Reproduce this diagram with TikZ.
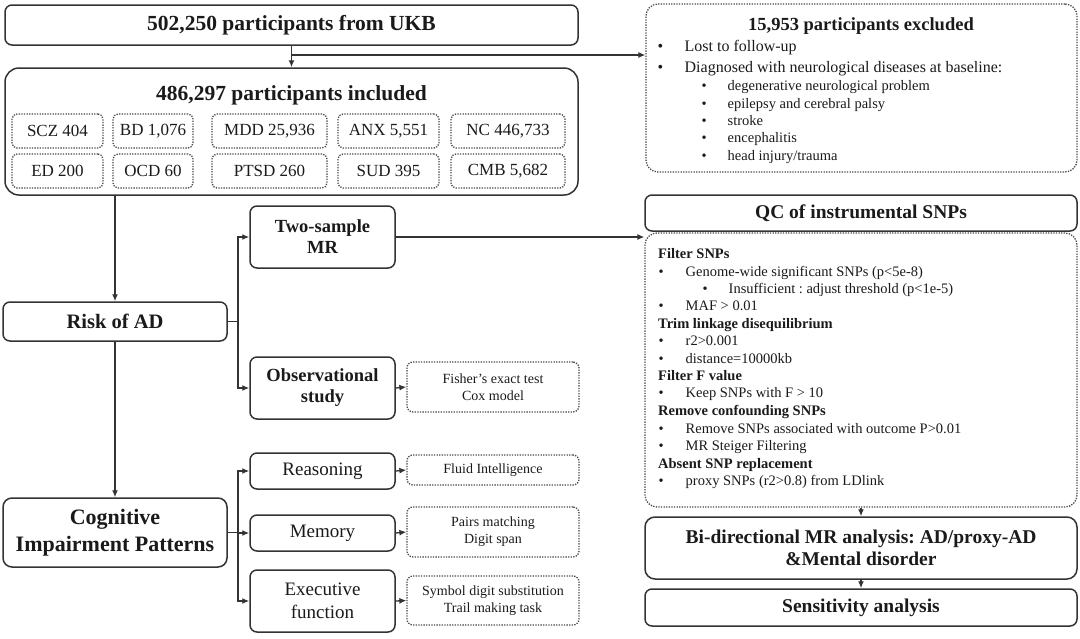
\documentclass[tikz,border=0pt]{standalone}
\usepackage{fontspec}
\setmainfont{Liberation Serif}
\usetikzlibrary{arrows.meta}
\definecolor{linec}{HTML}{333333}
\definecolor{textc}{HTML}{1A1A1A}
\definecolor{dotc}{HTML}{4A4A4A}
\newcommand{\fsz}[2]{\fontsize{#1}{#2}\selectfont}
\newcommand{\bulA}[1]{\makebox[27pt][l]{\textbullet}#1}
\newcommand{\bulB}[1]{\makebox[26pt][l]{\textbullet}#1}
\frenchspacing
\tikzset{
  box/.style={draw=linec, line width=1.5pt, rounded corners=7pt, inner sep=0pt, align=center, text=textc},
  dbox/.style={draw=dotc, line width=1.3pt, dash pattern=on 1.3pt off 1.3pt, rounded corners=6pt, inner sep=0pt, align=center, text=textc},
  arr/.style={draw=linec, line width=1.3pt, -{Latex[length=7pt,width=6pt]}},
  ln/.style={draw=linec, line width=1.3pt},
  txt/.style={anchor=base west, inner sep=0pt, text=textc},
  ctxt/.style={anchor=base, inner sep=0pt, text=textc},
  cnt/.style={dbox, rounded corners=5pt, minimum height=34pt, font=\fsz{17}{20}},
  body/.style={txt, font=\fsz{14.5}{17}},
  head/.style={txt, font=\fsz{14.5}{17}\bfseries},
}
\begin{document}
\begin{tikzpicture}[x=1pt,y=-1pt]
\useasboundingbox (0,0) rectangle (1080,638);

% top
\node[box, minimum width=573pt, minimum height=40pt, font=\fsz{21.5}{26}\bfseries] (ukb) at (291.5,25) {502,250 participants from UKB};
\node[box, rounded corners=14pt, minimum width=573pt, minimum height=127pt] (incl) at (291.5,131.5) {};
\node[ctxt, font=\fsz{21.5}{26}\bfseries] (incltitle) at (291.5,100) {486,297 participants included};

\node[cnt, minimum width=91pt]  (scz) at (57.5,131) {SCZ 404};
\node[cnt, minimum width=80pt]  (bd)  at (153,131) {BD 1,076};
\node[cnt, minimum width=115pt] (mdd) at (269.5,131) {MDD 25,936};
\node[cnt, minimum width=101pt] (anx) at (388.5,131) {ANX 5,551};
\node[cnt, minimum width=114pt] (nc)  at (508,131) {NC 446,733};
\node[cnt, minimum width=91pt]  (ed)  at (57.5,171) {ED 200};
\node[cnt, minimum width=80pt]  (ocd) at (153,171) {OCD 60};
\node[cnt, minimum width=115pt] (ptsd) at (269.5,171) {PTSD 260};
\node[cnt, minimum width=101pt] (sud) at (388.5,171) {SUD 395};
\node[cnt, minimum width=114pt] (cmb) at (508,171) {CMB 5,682};

% excluded
\node[dbox, rounded corners=12pt, minimum width=431pt, minimum height=168pt] (excl) at (861.5,88) {};
\node[ctxt, font=\fsz{18.5}{22}\bfseries] (extitle) at (861,30) {15,953 participants excluded};
\node[txt, font=\fsz{16}{19}] (x1) at (657.5,51) {\bulA{Lost to follow-up}};
\node[txt, font=\fsz{16}{19}] (x2) at (657.5,72) {\bulA{Diagnosed with neurological diseases at baseline:}};
\node[body] (x3) at (701.5,90) {\bulB{degenerative neurological problem}};
\node[body] (x4) at (701.5,108) {\bulB{epilepsy and cerebral palsy}};
\node[body] (x5) at (701.5,125) {\bulB{stroke}};
\node[body] (x6) at (701.5,142) {\bulB{encephalitis}};
\node[body] (x7) at (701.5,160) {\bulB{head injury/trauma}};

\coordinate (uj) at (291.5,55);
\draw[arr] (ukb.south) -- (incl.north);
\draw[arr] (uj) -- (uj -| excl.west);

% left column
\node[box, minimum width=224pt, minimum height=39pt, font=\fsz{20.5}{24}\bfseries] (risk) at (115,321.5) {Risk of AD};
\node[box, rounded corners=9pt, minimum width=224pt, minimum height=69pt, font=\fsz{22}{27}\bfseries] (cog) at (115,532.5) {Cognitive\\Impairment Patterns};
\draw[arr] (incl.south -| risk.north) -- (risk.north);
\draw[arr] (risk.south) -- (cog.north);

% MR branch
\node[box, minimum width=145pt, minimum height=62pt, font=\fsz{18.5}{21}\bfseries] (tsmr) at (322.5,237) {Two-sample\\MR};
\node[box, minimum width=145pt, minimum height=62pt, font=\fsz{18.5}{21}\bfseries] (obs) at (322.5,388) {Observational\\study};
\node[dbox, minimum width=172pt, minimum height=50pt, font=\fsz{14}{17}] (fisher) at (493,387) {Fisher’s exact test\\Cox model};
\coordinate (bj) at (238,321.5);
\draw[ln] (risk.east) -- (bj);
\draw[arr] (bj) |- (tsmr.west);
\draw[arr] (bj) |- (obs.west);
\draw[arr] (obs.east) -- (fisher.west);

% cognitive branch
\node[box, minimum width=145pt, minimum height=36pt, font=\fsz{19}{23}] (reas) at (322.5,471) {Reasoning};
\node[box, minimum width=145pt, minimum height=36pt, font=\fsz{19}{23}] (mem) at (322.5,533) {Memory};
\node[box, minimum width=145pt, minimum height=62pt, font=\fsz{19}{23}] (exec) at (322.5,601) {Executive\\function};
\node[dbox, minimum width=172pt, minimum height=30pt, font=\fsz{14}{17}] (fluid) at (493,470) {Fluid Intelligence};
\node[dbox, minimum width=172pt, minimum height=50pt, font=\fsz{14}{17}] (pairs) at (493,532) {Pairs matching\\Digit span};
\node[dbox, minimum width=172pt, minimum height=49pt, font=\fsz{14}{17}] (symb) at (493,600.5) {Symbol digit substitution\\Trail making task};
\coordinate (cj) at (238,532.5);
\draw[ln] (cog.east) -- (cj);
\draw[arr] (cj) |- (reas.west);
\draw[arr] (cj) |- (mem.west);
\draw[arr] (cj) |- (exec.west);
\draw[arr] (reas.east) -- (fluid.west);
\draw[arr] (mem.east) -- (pairs.west);
\draw[arr] (exec.east) -- (symb.west);

% QC column
\node[box, minimum width=432pt, minimum height=36pt, font=\fsz{19.5}{23}\bfseries] (qct) at (861,213) {QC of instrumental SNPs};
\node[dbox, rounded corners=12pt, minimum width=432pt, minimum height=274pt] (qcd) at (861,370) {};
\draw[arr] (tsmr.east) -- (tsmr.east -| qcd.west);

\node[head] (q1) at (658,258) {Filter SNPs};
\node[body] (q2) at (658.5,276) {\bulA{Genome-wide significant SNPs (p<5e-8)}};
\node[body] (q3) at (702.5,293) {\bulB{Insufficient : adjust threshold (p<1e-5)}};
\node[body] (q4) at (658.5,310) {\bulA{MAF > 0.01}};
\node[head] (q5) at (658,328) {Trim linkage disequilibrium};
\node[body] (q6) at (658.5,345) {\bulA{r2>0.001}};
\node[body] (q7) at (658.5,363) {\bulA{distance=10000kb}};
\node[head] (q8) at (658,380) {Filter F value};
\node[body] (q9) at (658.5,397) {\bulA{Keep SNPs with F > 10}};
\node[head] (q10) at (658,415) {Remove confounding SNPs};
\node[body] (q11) at (658.5,433) {\bulA{Remove SNPs associated with outcome P>0.01}};
\node[body] (q12) at (658.5,450) {\bulA{MR Steiger Filtering}};
\node[head] (q13) at (658,468) {Absent SNP replacement};
\node[body] (q14) at (658.5,485) {\bulA{proxy SNPs (r2>0.8) from LDlink}};

\node[box, rounded corners=10pt, minimum width=432pt, minimum height=62pt, font=\fsz{19.5}{22}\bfseries] (bidir) at (861,548) {Bi-directional MR analysis: AD/proxy-AD\\\&Mental disorder};
\node[box, minimum width=432pt, minimum height=37pt, font=\fsz{19.5}{23}\bfseries] (sens) at (861,607.5) {Sensitivity analysis};
\draw[arr] (qcd.south) -- (bidir.north);
\draw[arr] (bidir.south) -- (sens.north);
\end{tikzpicture}
\end{document}
